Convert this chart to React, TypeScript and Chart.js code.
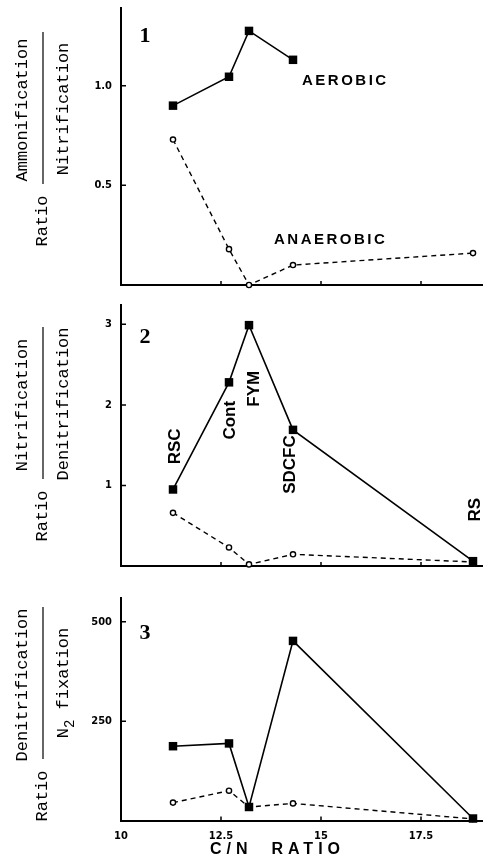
import React, { useEffect, useRef } from 'react';
import { Chart, registerables } from 'chart.js';

Chart.register(...registerables);

// ---- data ----
const cnRatio = [11.3, 12.7, 13.2, 14.3, 18.8];
const treatments = ['RSC', 'Cont', 'FYM', 'SDCFC', 'RS'];

const ammNitAerobic = [0.9, 1.045, 1.275, 1.13, null];
const ammNitAnaerobic = [0.73, 0.18, 0.0, 0.1, 0.16];

const nitDenitAerobic = [0.95, 2.28, 2.99, 1.69, 0.06];
const nitDenitAnaerobic = [0.66, 0.23, 0.02, 0.145, 0.05];

const denitFixAerobic = [187, 194, 34, 452, 5];
const denitFixAnaerobic = [45, 75, 34, 43, 4];

const xTickValues = [10, 12.5, 15, 17.5];
const xTickLabels = ['10', '12.5', '15', '17.5'];

const yTickValues1 = [0.5, 1.0];
const yTickLabels1 = ['0.5', '1.0'];
const yTickValues2 = [1, 2, 3];
const yTickLabels2 = ['1', '2', '3'];
const yTickValues3 = [250, 500];
const yTickLabels3 = ['250', '500'];

// label anchors (data coordinates) for treatment names in panel 2
const treatmentLabelX = [11.35, 12.74, 13.33, 14.23, 18.85];
const treatmentLabelY = [1.485, 1.81, 2.2, 1.26, 0.7];

const MONO = '"Liberation Mono", "DejaVu Sans Mono", monospace';
const SANS = '"Liberation Sans", Arial, sans-serif';
const TICKFONT = '"DejaVu Sans Condensed", "Liberation Sans Narrow", "DejaVu Sans", sans-serif';

type Panel = {
  num: string;
  numerator: string;
  denominator: string;
  subN2?: boolean;
  aer: (number | null)[];
  ana: (number | null)[];
  ymax: number;
  yTicks: number[];
  yLabels: string[];
  top: number;
  height: number;
  padTop: number;
  xAxisH: number;
  showX: boolean;
  numDy: number;
};

const panels: Panel[] = [
  {
    num: '1', numerator: 'Ammonification', denominator: 'Nitrification',
    aer: ammNitAerobic, ana: ammNitAnaerobic, ymax: 1.39,
    yTicks: yTickValues1, yLabels: yTickLabels1,
    top: 0, height: 295, padTop: 8, xAxisH: 10, showX: false, numDy: 28,
  },
  {
    num: '2', numerator: 'Nitrification', denominator: 'Denitrification',
    aer: nitDenitAerobic, ana: nitDenitAnaerobic, ymax: 3.24,
    yTicks: yTickValues2, yLabels: yTickLabels2,
    top: 295, height: 280, padTop: 10, xAxisH: 9, showX: false, numDy: 32,
  },
  {
    num: '3', numerator: 'Denitrification', denominator: 'N2 fixation', subN2: true,
    aer: denitFixAerobic, ana: denitFixAnaerobic, ymax: 560,
    yTicks: yTickValues3, yLabels: yTickLabels3,
    top: 575, height: 290, padTop: 23, xAxisH: 44.5, showX: true, numDy: 35,
  },
];

function rotText(ctx: CanvasRenderingContext2D, text: string, x: number, y: number, font: string) {
  ctx.save();
  ctx.translate(x, y);
  ctx.rotate(-Math.PI / 2);
  ctx.font = font;
  ctx.textAlign = 'center';
  ctx.textBaseline = 'middle';
  ctx.fillText(text, 0, 0);
  ctx.restore();
}

function makePlugin(p: Panel, idx: number) {
  return {
    id: 'decor' + idx,
    afterDraw(chart: any) {
      const ctx: CanvasRenderingContext2D = chart.ctx;
      const xs = chart.scales.x;
      const ys = chart.scales.y;
      const area = chart.chartArea;
      ctx.save();
      ctx.fillStyle = '#000';
      ctx.strokeStyle = '#000';
      ctx.lineWidth = 1.5;
      // inward tick marks
      ctx.beginPath();
      for (const t of xs.ticks) {
        if (t.value <= 10) continue;
        const px = xs.getPixelForValue(t.value);
        ctx.moveTo(px, area.bottom);
        ctx.lineTo(px, area.bottom - 4);
      }
      for (const t of ys.ticks) {
        const py = ys.getPixelForValue(t.value);
        ctx.moveTo(area.left, py);
        ctx.lineTo(area.left + 5, py);
      }
      ctx.stroke();

      // y title fraction
      const mono = '17px ' + MONO;
      rotText(ctx, p.numerator, 22, 110, mono);
      if (p.subN2) {
        ctx.save();
        ctx.translate(63, 108);
        ctx.rotate(-Math.PI / 2);
        ctx.textBaseline = 'middle';
        ctx.textAlign = 'left';
        ctx.font = mono;
        const wN = ctx.measureText('N').width;
        const wRest = ctx.measureText(' fixation').width;
        ctx.font = '14px ' + MONO;
        const w2 = ctx.measureText('2').width;
        const total = wN + w2 + wRest;
        let sx = -total / 2;
        ctx.font = mono;
        ctx.fillText('N', sx, 0);
        sx += wN;
        ctx.font = '14px ' + MONO;
        ctx.fillText('2', sx, 7);
        sx += w2;
        ctx.font = mono;
        ctx.fillText(' fixation', sx, 0);
        ctx.restore();
      } else {
        rotText(ctx, p.denominator, 63, 109, mono);
      }
      ctx.lineWidth = 1.2;
      ctx.beginPath();
      ctx.moveTo(43, 32);
      ctx.lineTo(43, 184);
      ctx.stroke();
      rotText(ctx, 'Ratio', 42, 221, mono);

      // panel number
      ctx.font = 'bold 22px "Liberation Serif", "DejaVu Serif", serif';
      ctx.textAlign = 'center';
      ctx.textBaseline = 'middle';
      ctx.fillText(p.num, area.left + 24, area.top + p.numDy);

      // annotations
      if (idx === 0) {
        ctx.font = 'bold 15px ' + SANS;
        (ctx as any).letterSpacing = '2.5px';
        ctx.textAlign = 'left';
        ctx.fillText('AEROBIC', xs.getPixelForValue(14.525), ys.getPixelForValue(1.025));
        ctx.fillText('ANAEROBIC', xs.getPixelForValue(13.825), ys.getPixelForValue(0.226));
        (ctx as any).letterSpacing = '0px';
      }
      if (idx === 1) {
        treatments.forEach((t, i) => {
          rotText(ctx, t, xs.getPixelForValue(treatmentLabelX[i]), ys.getPixelForValue(treatmentLabelY[i]), 'bold 17px ' + SANS);
        });
      }
      if (idx === 2) {
        ctx.font = 'bold 16px ' + SANS;
        (ctx as any).letterSpacing = '5px';
        ctx.textAlign = 'left';
        ctx.textBaseline = 'middle';
        ctx.fillText('C/N  RATIO', 210, 275);
        (ctx as any).letterSpacing = '0px';
      }
      ctx.restore();
    },
  };
}

function makeConfig(p: Panel, idx: number): any {
  return {
    type: 'line',
    data: {
      datasets: [
        {
          data: cnRatio.map((x, i) => ({ x, y: p.aer[i] })),
          borderColor: '#000',
          borderWidth: 1.6,
          pointStyle: 'rect',
          pointRadius: 6,
          pointBackgroundColor: '#000',
          pointBorderColor: '#000',
          pointBorderWidth: 0,
          spanGaps: false,
          clip: false,
        },
        {
          data: cnRatio.map((x, i) => ({ x, y: p.ana[i] })),
          borderColor: '#000',
          borderWidth: 1.4,
          borderDash: [5, 4],
          pointStyle: 'circle',
          pointRadius: 2.6,
          pointBackgroundColor: '#fff',
          pointBorderColor: '#000',
          pointBorderWidth: 1.4,
          clip: false,
        },
      ],
    },
    options: {
      animation: false,
      responsive: false,
      maintainAspectRatio: false,
      layout: { autoPadding: false, padding: { top: p.padTop, right: 0, left: 0, bottom: 0 } },
      plugins: { legend: { display: false }, tooltip: { enabled: false } },
      scales: {
        x: {
          type: 'linear',
          min: 10,
          max: 19.05,
          afterBuildTicks: (s: any) => {
            s.ticks = xTickValues.map((v) => ({ value: v }));
          },
          afterFit: (s: any) => {
            s.height = p.xAxisH;
          },
          ticks: {
            display: p.showX,
            autoSkip: false,
            maxRotation: 0,
            padding: 1,
            color: '#000',
            font: { family: TICKFONT, size: 11, weight: 'bold' },
            callback: (v: number) => {
              const i = xTickValues.indexOf(v);
              return i >= 0 ? xTickLabels[i] : '';
            },
          },
          grid: { display: false, drawTicks: true, tickLength: 8 },
          border: { display: true, color: '#000', width: 2 },
        },
        y: {
          type: 'linear',
          min: 0,
          max: p.ymax,
          afterBuildTicks: (s: any) => {
            s.ticks = p.yTicks.map((v) => ({ value: v }));
          },
          afterFit: (s: any) => {
            s.width = 121;
          },
          ticks: {
            padding: 1,
            color: '#000',
            font: { family: TICKFONT, size: 11, weight: 'bold' },
            callback: (v: number) => {
              const i = p.yTicks.indexOf(v);
              return i >= 0 ? p.yLabels[i] : '';
            },
          },
          grid: { display: false, drawTicks: true, tickLength: 8 },
          border: { display: true, color: '#000', width: 2 },
        },
      },
    },
    plugins: [makePlugin(p, idx)],
  };
}

function PanelChart({ p, idx }: { p: Panel; idx: number }) {
  const ref = useRef<HTMLCanvasElement | null>(null);
  useEffect(() => {
    if (!ref.current) return;
    const chart = new Chart(ref.current, makeConfig(p, idx));
    return () => chart.destroy();
  }, [p, idx]);
  return (
    <canvas
      ref={ref}
      width={483}
      height={p.height}
      style={{ position: 'absolute', left: 0, top: p.top, width: 483, height: p.height, display: 'block' }}
    />
  );
}

export default function App() {
  return (
    <div style={{ position: 'absolute', left: 0, top: 0, width: 483, height: 865, background: '#fff', overflow: 'hidden' }}>
      {panels.map((p, i) => (
        <PanelChart key={i} p={p} idx={i} />
      ))}
    </div>
  );
}
